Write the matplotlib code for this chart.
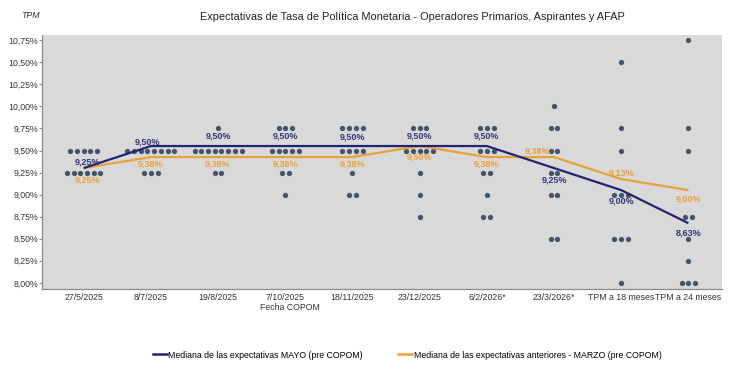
import matplotlib
matplotlib.use("Agg")
import matplotlib.pyplot as plt
import matplotlib.transforms as mtransforms
from matplotlib.lines import Line2D
from decimal import Decimal, ROUND_HALF_UP

# ---------------- data ----------------
categories = ["27/5/2025", "8/7/2025", "19/8/2025", "7/10/2025", "18/11/2025",
              "23/12/2025", "6/2/2026*", "23/3/2026*", "TPM a 18 meses", "TPM a 24 meses"]

levels = [8.00, 8.25, 8.50, 8.75, 9.00, 9.25, 9.50, 9.75, 10.00, 10.25, 10.50, 10.75]

# number of answers at each level (same order as levels), one list per category
counts_27_5 = [0, 0, 0, 0, 0, 6, 5, 0, 0, 0, 0, 0]
counts_8_7 = [0, 0, 0, 0, 0, 3, 8, 0, 0, 0, 0, 0]
counts_19_8 = [0, 0, 0, 0, 0, 2, 8, 1, 0, 0, 0, 0]
counts_7_10 = [0, 0, 0, 0, 1, 2, 5, 3, 0, 0, 0, 0]
counts_18_11 = [0, 0, 0, 0, 2, 1, 4, 4, 0, 0, 0, 0]
counts_23_12 = [0, 0, 0, 1, 1, 1, 5, 3, 0, 0, 0, 0]
counts_6_2 = [0, 0, 0, 2, 1, 2, 3, 3, 0, 0, 0, 0]
counts_23_3 = [0, 0, 2, 0, 2, 2, 2, 2, 1, 0, 0, 0]
counts_18m = [1, 0, 3, 0, 3, 0, 1, 1, 0, 0, 1, 0]
counts_24m = [3, 1, 1, 2, 0, 0, 1, 1, 0, 0, 0, 1]
counts = [counts_27_5, counts_8_7, counts_19_8, counts_7_10, counts_18_11,
          counts_23_12, counts_6_2, counts_23_3, counts_18m, counts_24m]

median_mayo = [9.25, 9.50, 9.50, 9.50, 9.50, 9.50, 9.50, 9.25, 9.00, 8.625]
median_marzo = [9.25, 9.375, 9.375, 9.375, 9.375, 9.50, 9.375, 9.375, 9.125, 9.00]

yticks = [8.00, 8.25, 8.50, 8.75, 9.00, 9.25, 9.50, 9.75, 10.00, 10.25, 10.50, 10.75]

# ---------------- style ----------------
FONT = "Liberation Sans"
plt.rcParams["font.family"] = [FONT, "DejaVu Sans"]
DOT = "#44546A"
BLUE = "#23236F"
BLUE_TXT = "#35357E"
ORANGE = "#E9A23B"
BG = "#D9D9D9"

fig = plt.figure(figsize=(7.30, 3.66), dpi=100)
ax = fig.add_axes([42 / 730, 1 - 289 / 366, 680 / 730, 254 / 366])
ax.set_facecolor(BG)

x = list(range(len(categories)))
step = 0.1

# dots
for i, row in enumerate(counts):
    for lev, n in zip(levels, row):
        for k in range(n):
            ax.plot(i + (k - (n - 1) / 2) * step, lev, "o", color=DOT,
                    markersize=3.8, markeredgewidth=0, zorder=2)

# median lines (drawn slightly shifted, as in the original secondary axis)
shift = mtransforms.ScaledTranslation(0, 4.5 / 100, fig.dpi_scale_trans)
ax.plot(x, median_marzo, color=ORANGE, lw=1.6, zorder=3,
        transform=ax.transData + shift, solid_capstyle="butt")
ax.plot(x, median_mayo, color=BLUE, lw=1.6, zorder=4,
        transform=ax.transData + shift, solid_capstyle="butt")


def fmt(v):
    d = Decimal(str(v)).quantize(Decimal("0.01"), rounding=ROUND_HALF_UP)
    return f"{d}".replace(".", ",") + "%"


mayo_off = [(4, 11), (-3, 9), (0, 15), (0, 15), (0, 14), (0, 15), (0, 15), (0, -7), (0, -6), (0, -5)]
marzo_off = [(4, -7), (0, -2), (0, -2), (0, -2), (0, -2), (0, -6), (0, -2), (-16, 11), (0, 11), (0, -4)]

for i, v in enumerate(median_mayo):
    ax.annotate(fmt(v), (i, v), xytext=mayo_off[i], textcoords="offset pixels",
                ha="center", va="center", fontsize=6.5, fontweight="bold",
                color=BLUE_TXT, zorder=6)
for i, v in enumerate(median_marzo):
    ax.annotate(fmt(v), (i, v), xytext=marzo_off[i], textcoords="offset pixels",
                ha="center", va="center", fontsize=6.5, fontweight="bold",
                color=ORANGE, zorder=6)

# axes
ax.set_xlim(-0.62, 9.5)
ax.set_ylim(7.93, 10.81)
ax.set_yticks(yticks)
ax.set_yticklabels([fmt(t) for t in yticks], fontsize=6.3, color="#333333")
ax.set_xticks(x)
ax.set_xticklabels(categories, fontsize=6.3, color="#333333")
ax.tick_params(axis="x", length=0, pad=3)
ax.tick_params(axis="y", length=2, pad=1, color="#888888")
for s in ["top", "right"]:
    ax.spines[s].set_visible(False)
for s in ["left", "bottom"]:
    ax.spines[s].set_color("#8C8C8C")
    ax.spines[s].set_linewidth(0.9)

fig.text(290 / 730, 1 - 307 / 366, "Fecha COPOM", ha="center", va="center",
         fontsize=6.3, color="#333333")
fig.text(412 / 730, 1 - 17 / 366,
         "Expectativas de Tasa de Política Monetaria - Operadores Primarios, Aspirantes y AFAP",
         ha="center", va="center", fontsize=7.9, color="#222222")
fig.text(30 / 730, 1 - 15 / 366, "TPM", ha="center", va="center", fontsize=6.3,
         style="italic", color="#333333")

handles = [Line2D([], [], color=BLUE, lw=1.8),
           Line2D([], [], color=ORANGE, lw=1.8)]
labels = ["Mediana de las expectativas MAYO (pre COPOM)",
          "Mediana de las expectativas anteriores - MARZO (pre COPOM)"]
fig.legend(handles, labels, loc="center", bbox_to_anchor=(407 / 730, 11 / 366),
           ncol=2, frameon=False, fontsize=6.3, handlelength=1.6,
           handletextpad=0.2, columnspacing=4.0)

fig.savefig("out.png", dpi=100)
